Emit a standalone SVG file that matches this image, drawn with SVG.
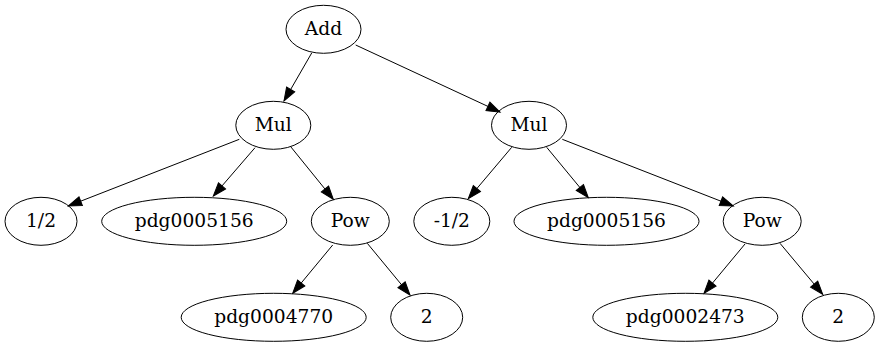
<svg xmlns="http://www.w3.org/2000/svg" width="880" height="347" viewBox="0 0 880 347">
<style>
.n ellipse{fill:none;stroke:#000;stroke-width:1}
.n text{font-family:"DejaVu Serif",serif;font-size:18.67px;text-anchor:middle;fill:#000}
.e line{stroke:#000;stroke-width:1;marker-end:url(#ah)}
</style>
<defs>
<marker id="ah" markerUnits="userSpaceOnUse" markerWidth="16" markerHeight="12" refX="13.3" refY="5" orient="auto" overflow="visible">
<path d="M0,0.33 L13.3,5 L0,9.67 Z" fill="#000" stroke="#000" stroke-width="1"/>
</marker>
</defs>
<rect width="880" height="347" fill="#fff"/>
<g id="edges" class="e">
<line x1="311.7" y1="53" x2="284" y2="101"/>
<line x1="355.7" y1="45" x2="500" y2="112"/>
<line x1="239.3" y1="139.3" x2="68.3" y2="206"/>
<line x1="255" y1="147.7" x2="213.3" y2="196"/>
<line x1="290.7" y1="146.7" x2="333.3" y2="199.3"/>
<line x1="332.7" y1="245" x2="292.7" y2="293.3"/>
<line x1="367.3" y1="243.3" x2="410" y2="295"/>
<line x1="511.7" y1="147.3" x2="468.3" y2="198.7"/>
<line x1="546.7" y1="147.3" x2="588.3" y2="197.7"/>
<line x1="562.3" y1="139.3" x2="733.3" y2="206"/>
<line x1="745" y1="244" x2="704" y2="293.3"/>
<line x1="780" y1="243.3" x2="822.7" y2="294.3"/>
</g>
<g id="add" class="n"><ellipse cx="323.5" cy="29.3" rx="37.5" ry="24"/><text x="323.5" y="35.3">Add</text></g>
<g id="mul1" class="n"><ellipse cx="273.3" cy="125.3" rx="37.5" ry="24"/><text x="273.3" y="131.3">Mul</text></g>
<g id="mul2" class="n"><ellipse cx="529" cy="125.3" rx="37.5" ry="24"/><text x="529" y="131.3">Mul</text></g>
<g id="half" class="n"><ellipse cx="41" cy="221.3" rx="36" ry="24"/><text x="41" y="227.3">1/2</text></g>
<g id="pdg5156a" class="n"><ellipse cx="194.2" cy="221.3" rx="92.5" ry="24"/><text x="194.2" y="227.3">pdg0005156</text></g>
<g id="pow1" class="n"><ellipse cx="350.3" cy="221.3" rx="39" ry="24"/><text x="350.3" y="227.3">Pow</text></g>
<g id="neghalf" class="n"><ellipse cx="451.8" cy="221.3" rx="38" ry="24"/><text x="451.8" y="227.3">-1/2</text></g>
<g id="pdg5156b" class="n"><ellipse cx="606.5" cy="221.3" rx="92.5" ry="24"/><text x="606.5" y="227.3">pdg0005156</text></g>
<g id="pow2" class="n"><ellipse cx="762.2" cy="221.3" rx="39" ry="24"/><text x="762.2" y="227.3">Pow</text></g>
<g id="pdg4770" class="n"><ellipse cx="273.7" cy="317.3" rx="92.5" ry="24"/><text x="273.7" y="323.3">pdg0004770</text></g>
<g id="two1" class="n"><ellipse cx="426.7" cy="317.3" rx="36" ry="24"/><text x="426.7" y="323.3">2</text></g>
<g id="pdg2473" class="n"><ellipse cx="685.3" cy="317.3" rx="92.5" ry="24"/><text x="685.3" y="323.3">pdg0002473</text></g>
<g id="two2" class="n"><ellipse cx="838.3" cy="317.3" rx="36" ry="24"/><text x="838.3" y="323.3">2</text></g>
</svg>
